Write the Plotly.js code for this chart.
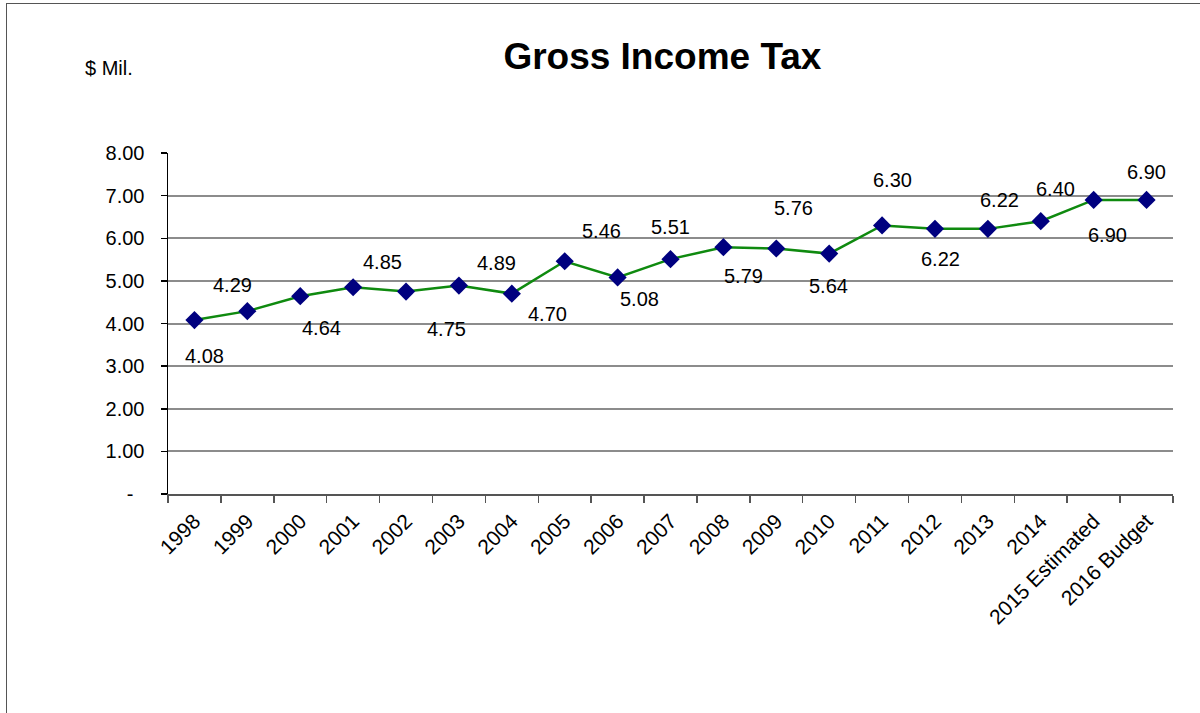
<!DOCTYPE html>
<html>
<head>
<meta charset="utf-8">
<script src="https://cdn.plot.ly/plotly-3.0.1.min.js"></script>
<style>
  html, body { margin: 0; padding: 0; background: #fff; }
  #wrap { position: relative; width: 1200px; height: 713px; overflow: hidden; }
  #chart { position: absolute; left: 0; top: 0; width: 1200px; height: 713px; }
  #frame { position: absolute; left: 6px; top: 3px; width: 1210px; height: 730px;
           border: 1.5px solid #555; pointer-events: none; }
</style>
</head>
<body>
<div id="wrap">
  <div id="chart"></div>
  <div id="frame"></div>
</div>
<script>
// ---- data ----
const categories = ["1998","1999","2000","2001","2002","2003","2004","2005","2006","2007",
                    "2008","2009","2010","2011","2012","2013","2014","2015 Estimated","2016 Budget"];
const values = [4.08, 4.29, 4.64, 4.85, 4.75, 4.89, 4.70, 5.46, 5.08, 5.51,
                5.79, 5.76, 5.64, 6.30, 6.22, 6.22, 6.40, 6.90, 6.90];
const yTickVals = [0, 1, 2, 3, 4, 5, 6, 7, 8];
const yTickText = ["-\u00a0\u00a0", "1.00", "2.00", "3.00", "4.00", "5.00", "6.00", "7.00", "8.00"];

// ---- label placement (pixel offsets from each point: [right, down]) ----
const labelShift = [[10,36],[-15,-26],[21,32],[29,-25],[40,37],[38,-23],[36,20],[37,-30],
                    [22,22],[0,-32],[20,29],[17,-40],[-1,32],[10,-45],[6,30],[12,-29],
                    [15,-32],[14,35],[0,-28]];

const FONT = "'Liberation Sans', Arial, Helvetica, sans-serif";

const trace = {
  type: "scatter",
  mode: "lines+markers",
  x: categories,
  y: values,
  line: { color: "#0f8a0f", width: 2.5 },
  marker: { symbol: "diamond", size: 14, color: "#00007f", line: { width: 0 } },
  hoverinfo: "x+y"
};

// on a category axis a numeric-looking string would be read as an index,
// so annotations use the category index
const annotations = categories.map((c, i) => ({
  x: i, y: values[i], xref: "x", yref: "y",
  text: values[i].toFixed(2),
  showarrow: false,
  xshift: labelShift[i][0],
  yshift: -labelShift[i][1],
  font: { family: FONT, size: 20, color: "#000" }
}));

annotations.push({
  xref: "paper", yref: "paper", x: -0.0846, y: 1.249,
  xanchor: "left", yanchor: "middle",
  text: "$ Mil.", showarrow: false,
  font: { family: FONT, size: 20, color: "#000" }
});

const layout = {
  width: 1200, height: 713,
  margin: { l: 168, r: 27, t: 153, b: 219 },
  paper_bgcolor: "rgba(0,0,0,0)",
  plot_bgcolor: "rgba(0,0,0,0)",
  showlegend: false,
  font: { family: FONT, size: 20, color: "#000" },
  title: {
    text: "<b>Gross Income Tax</b>",
    font: { family: FONT, size: 37, color: "#000" },
    xref: "container", yref: "container",
    x: 0.552, xanchor: "center",
    y: 0.921, yanchor: "middle"
  },
  xaxis: {
    type: "category",
    range: [-0.5, categories.length - 0.5],
    autorange: false,
    tickangle: -45,
    tickson: "boundaries",
    ticks: "outside", ticklen: 7, tickcolor: "#555", tickwidth: 1.5,
    showline: true, linecolor: "#555", linewidth: 1.5,
    showgrid: false, zeroline: false,
    ticklabelstandoff: 5,
    tickfont: { family: FONT, size: 21, color: "#000" },
    fixedrange: true
  },
  yaxis: {
    range: [0, 8],
    autorange: false,
    tickmode: "array", tickvals: yTickVals, ticktext: yTickText,
    ticks: "outside", ticklen: 6, tickcolor: "#000", tickwidth: 1.5,
    showline: true, linecolor: "#000", linewidth: 1.5,
    showgrid: true, gridcolor: "#8c8c8c", gridwidth: 2,
    zeroline: false,
    ticklabelstandoff: 12,
    tickfont: { family: FONT, size: 20, color: "#000" },
    fixedrange: true
  },
  annotations: annotations
};

Plotly.newPlot("chart", [trace], layout, { displayModeBar: false, staticPlot: true });
</script>
</body>
</html>
